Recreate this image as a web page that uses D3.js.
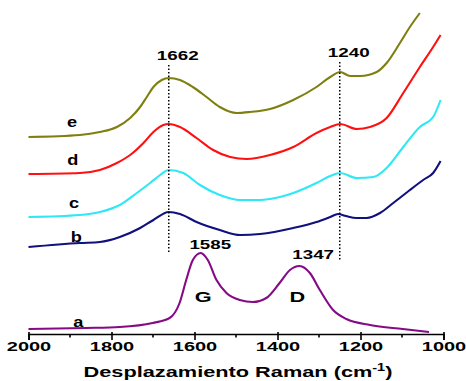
<!DOCTYPE html>
<html><head><meta charset="utf-8">
<script src="https://cdn.jsdelivr.net/npm/d3@7"></script>
<style>
html,body{margin:0;padding:0;background:#fff;}
svg{display:block;}
text{font-family:Arial,"Liberation Sans",sans-serif;font-weight:bold;fill:#000;}
</style></head>
<body>
<svg id="chart" width="466" height="381"></svg>
<script>
// ---- data (Raman shift in cm-1, intensity in arbitrary units, already offset) ----
const seriesNames = ["a", "b", "c", "d", "e"];
const seriesColors = ["#850a85", "#10107e", "#2ee8f5", "#ff1010", "#7f7f10"];
const spectrumA = [[2000,5],[1861,6],[1780,7],[1701,11],[1660,16],[1636,31],[1620,54],[1604,74],[1585,81],[1568,74],[1547,54],[1523,41],[1491,34],[1459,32],[1427,36],[1395,51],[1370,64],[1347,68],[1322,61],[1298,44],[1266,24],[1234,15],[1177,9],[1098,5],[1035,2]];
const spectrumB = [[2000,87],[1876,91],[1828,92],[1780,97],[1731,106],[1699,114],[1662,122],[1635,120],[1595,112],[1539,104],[1490,99],[1442,100],[1362,106],[1306,112],[1273,117],[1254,120],[1235,118],[1210,116],[1185,116],[1153,121],[1121,131],[1081,144],[1049,154],[1025,161],[1007,173]];
const spectrumC = [[2000,117],[1876,119],[1828,122],[1780,129],[1739,141],[1707,151],[1683,159],[1662,164],[1627,161],[1587,149],[1539,139],[1490,134],[1442,134],[1418,135],[1362,141],[1306,151],[1273,158],[1249,161],[1209,156],[1169,157],[1137,166],[1097,187],[1057,207],[1025,217],[1007,234]];
const spectrumD = [[2000,160],[1876,161],[1828,164],[1787,171],[1755,179],[1723,191],[1699,202],[1675,209],[1662,210],[1635,207],[1595,196],[1555,184],[1514,177],[1474,175],[1418,179],[1362,187],[1306,201],[1273,207],[1249,210],[1209,205],[1177,207],[1137,216],[1097,241],[1057,267],[1025,287],[1007,299]];
const spectrumE = [[2000,197],[1876,199],[1828,202],[1787,207],[1755,216],[1731,227],[1715,237],[1699,247],[1679,254],[1662,256],[1635,254],[1604,247],[1571,237],[1539,227],[1498,221],[1466,222],[1418,225],[1362,234],[1306,247],[1273,257],[1249,262],[1225,258],[1201,258],[1161,262],[1137,271],[1105,291],[1081,307],[1057,321]];
const spectra = [spectrumA, spectrumB, spectrumC, spectrumD, spectrumE];
const seriesLabelX = [1880, 1885, 1890, 1893, 1895];
const seriesLabelY = [7, 92, 126, 169, 207];
const majorTicks = [2000, 1800, 1600, 1400, 1200, 1000];
const minorTicks = [1900, 1700, 1500, 1300, 1100];
const markerX = [1662, 1250];
const markerText = ["1662", "1240"];
const markerTop = [269, 272];
const markerBottom = [82, 74];
const peakText = ["1585", "1347"];
const peakX = [1562, 1314];
const peakY = [85, 75];
const bandText = ["G", "D"];
const bandX = [1579, 1352];
const bandY = [32, 32];
const xTitle = "Desplazamiento Raman (cm";
const xTitleSup = "-1";

// ---- layout ----
const svg = d3.select("#chart");
const axisY = 334;
const x = d3.scaleLinear().domain([2000, 1000]).range([28.5, 443.5]);
const y = d3.scaleLinear().domain([0, 330]).range([axisY, 4]);

function stretch(sel, sx) {
  sel.each(function() {
    const t = d3.select(this);
    const tx = +t.attr("x") || 0, ty = +t.attr("y") || 0;
    t.attr("x", null).attr("y", null)
     .attr("transform", `translate(${tx},${ty}) scale(${sx},1)`);
  });
}

// spectra
const line = d3.line().x(d => x(d[0])).y(d => y(d[1])).curve(d3.curveMonotoneX);
svg.append("g").selectAll("path").data(spectra).join("path")
  .attr("d", d => line(d.slice().sort((p, q) => q[0] - p[0])))
  .attr("fill", "none")
  .attr("stroke", (d, i) => seriesColors[i])
  .attr("stroke-width", 2.1)
  .attr("stroke-linejoin", "round");

// series letters
svg.append("g").selectAll("text").data(seriesNames).join("text")
  .attr("x", (d, i) => x(seriesLabelX[i]))
  .attr("y", (d, i) => y(seriesLabelY[i]))
  .attr("text-anchor", "middle")
  .style("font-size", "14px")
  .text(d => d)
  .call(stretch, 1.3);

// dotted markers
svg.append("g").selectAll("line").data(markerX).join("line")
  .attr("x1", d => x(d)).attr("x2", d => x(d))
  .attr("y1", (d, i) => y(markerTop[i])).attr("y2", (d, i) => y(markerBottom[i]))
  .attr("stroke", "#000").attr("stroke-width", 1.5)
  .attr("stroke-dasharray", "1.5,2");
svg.append("g").selectAll("text").data(markerText).join("text")
  .attr("x", (d, i) => x(markerX[i]) + 9)
  .attr("y", (d, i) => y(markerTop[i]) - 5)
  .attr("text-anchor", "middle")
  .style("font-size", "13px")
  .text(d => d)
  .call(stretch, 1.45);

// peak labels
svg.append("g").selectAll("text").data(peakText).join("text")
  .attr("x", (d, i) => x(peakX[i]))
  .attr("y", (d, i) => y(peakY[i]))
  .attr("text-anchor", "middle")
  .style("font-size", "12.5px")
  .text(d => d)
  .call(stretch, 1.5);
svg.append("g").selectAll("text").data(bandText).join("text")
  .attr("x", (d, i) => x(bandX[i]))
  .attr("y", (d, i) => y(bandY[i]))
  .attr("text-anchor", "middle")
  .style("font-size", "14px")
  .text(d => d)
  .call(stretch, 1.55);

// x axis
const axis = d3.axisBottom(x).tickValues(majorTicks).tickFormat(d3.format("d")).tickSizeOuter(0).tickSize(6);
const gx = svg.append("g").attr("transform", `translate(0,${axisY})`).call(axis);
gx.select(".domain").attr("stroke", "#000").attr("stroke-width", 1.6);
gx.selectAll(".tick line").attr("y1", -2).attr("y2", 6).attr("stroke-width", 1.6);
gx.selectAll(".tick text").attr("dy", null).attr("y", 17)
  .style("font-size", "12.5px").style("font-family", "Arial, 'Liberation Sans', sans-serif").style("font-weight", "bold")
  .call(stretch, 1.6);
gx.selectAll(".minor").data(minorTicks).join("line").attr("class", "minor")
  .attr("x1", d => x(d)).attr("x2", d => x(d)).attr("y1", 0).attr("y2", 3.5)
  .attr("stroke", "#000").attr("stroke-width", 1.6);

// x title
const title = svg.append("text").attr("text-anchor", "middle").style("font-size", "15px");
title.append("tspan").text(xTitle);
title.append("tspan").attr("dy", -6).style("font-size", "10px").text(xTitleSup);
title.append("tspan").attr("dy", 6).text(")");
title.attr("x", 238).attr("y", 377).call(stretch, 1.45);
</script>
</body></html>
